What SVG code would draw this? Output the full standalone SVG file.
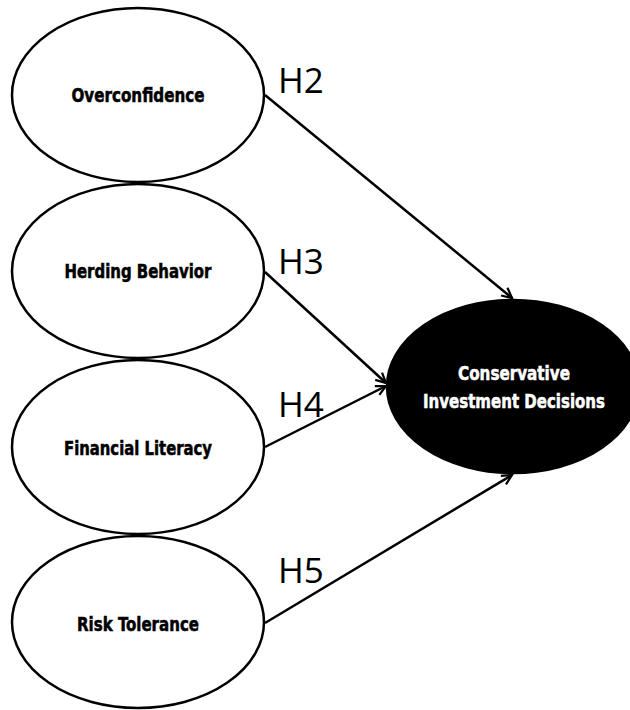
<svg xmlns="http://www.w3.org/2000/svg" width="630" height="710" viewBox="0 0 630 710">
<defs>
<style>
.node{fill:#fff;stroke:#000;stroke-width:2.5}
.dark{fill:#000;stroke:#000;stroke-width:2.5}
.lbl{font-family:"DejaVu Sans",sans-serif;font-weight:bold;font-stretch:condensed;font-size:19px;text-anchor:middle;fill:#000;stroke:#000;stroke-width:0.5}
.lblw{font-family:"DejaVu Sans",sans-serif;font-weight:bold;font-stretch:condensed;font-size:19px;text-anchor:middle;fill:#fff;stroke:#fff;stroke-width:0.5}
.h{font-family:"Open Sans","Noto Sans",sans-serif;font-size:35px;fill:#000}
.edge{stroke:#000;stroke-width:2.5;fill:none;marker-end:url(#arr)}
</style>
<marker id="arr" markerUnits="userSpaceOnUse" markerWidth="14" markerHeight="14" refX="11" refY="6" orient="auto" viewBox="0 0 14 12">
<path d="M1,1 L11,6 L1,11" fill="none" stroke="#000" stroke-width="2.2"/>
</marker>
</defs>
<rect width="630" height="710" fill="#fff"/>
<g id="connectors">
<line class="edge" x1="265" y1="95" x2="512" y2="298"/>
<line class="edge" x1="265" y1="272" x2="386" y2="383"/>
<line class="edge" x1="265" y1="447" x2="386" y2="386"/>
<line class="edge" x1="265" y1="623" x2="512" y2="475"/>
</g>
<g id="overconfidence">
<ellipse class="node" cx="138" cy="95" rx="126" ry="87"/>
<text class="lbl" x="138" y="102" textLength="133" lengthAdjust="spacingAndGlyphs">Overconfidence</text>
</g>
<g id="herding">
<ellipse class="node" cx="138" cy="271" rx="126" ry="87"/>
<text class="lbl" x="138" y="278" textLength="147" lengthAdjust="spacingAndGlyphs">Herding Behavior</text>
</g>
<g id="literacy">
<ellipse class="node" cx="138" cy="447" rx="126" ry="87"/>
<text class="lbl" x="138" y="455" textLength="148" lengthAdjust="spacingAndGlyphs">Financial Literacy</text>
</g>
<g id="risk">
<ellipse class="node" cx="138" cy="622" rx="126" ry="86"/>
<text class="lbl" x="138" y="631" textLength="122" lengthAdjust="spacingAndGlyphs">Risk Tolerance</text>
</g>
<g id="decisions">
<ellipse class="dark" cx="513" cy="386.5" rx="126" ry="86.5"/>
<text class="lblw" x="514" y="380" textLength="112" lengthAdjust="spacingAndGlyphs">Conservative</text>
<text class="lblw" x="514" y="408" textLength="182" lengthAdjust="spacingAndGlyphs">Investment Decisions</text>
</g>
<g id="labels">
<text class="h" x="278" y="93">H2</text>
<text class="h" x="278" y="274">H3</text>
<text class="h" x="278" y="417">H4</text>
<text class="h" x="278" y="583">H5</text>
</g>
</svg>
